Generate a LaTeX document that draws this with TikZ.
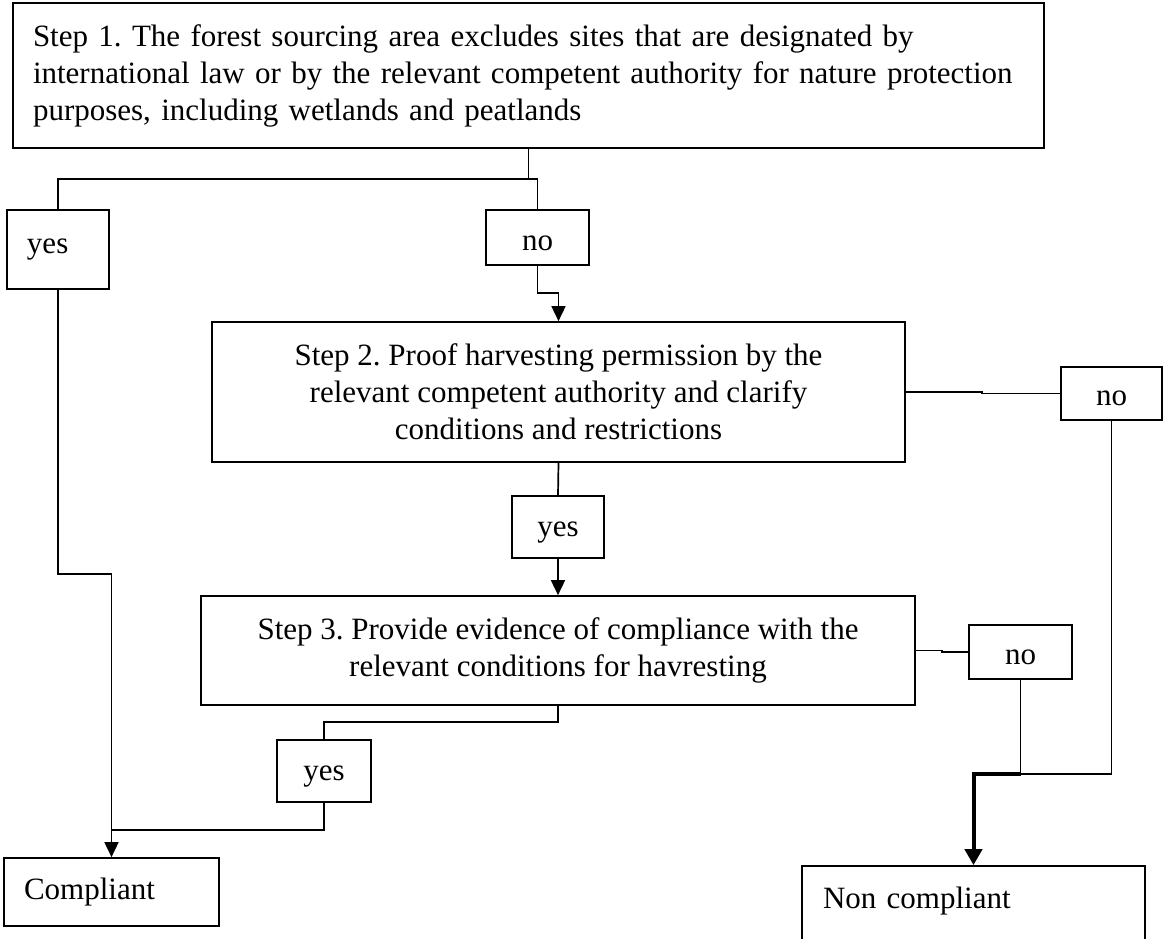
\documentclass[tikz,border=0pt]{standalone}
\usepackage{fontspec}
\setmainfont{Liberation Serif}
\usetikzlibrary{arrows.meta}
\newcommand\shiftdown[2]{\raisebox{-#1}[\height][\depth]{#2}}
\tikzset{
  box/.style={draw, line width=1.7pt, inner sep=0pt, font=\fontsize{31pt}{37pt}\selectfont\frenchspacing},
  conn/.style={line width=1.7pt},
  arr/.style={line width=1.7pt, -{Triangle[length=15pt,width=14pt]}},
  thickarr/.style={line width=4pt, -{Triangle[length=16pt,width=17pt]}},
}
\begin{document}
\begin{tikzpicture}[x=1pt,y=-1pt]
\useasboundingbox (0,0) rectangle (1163,938);
\clip (0,0) rectangle (1163,938);
% boxes
\node[box, text width=991pt, inner xsep=20pt, minimum height=145pt, align=left] (s1) at (528.5,75.5)
  {\mbox{Step 1. The forest sourcing area excludes sites that are designated by}\\
   \mbox{international law or by the relevant competent authority for nature protection}\\
   \mbox{purposes, including wetlands and peatlands}};
\node[box, text width=62pt, inner xsep=20pt, minimum height=79pt, align=left] (yes1) at (58,249.5) {\raisebox{4pt}{yes}};
\node[box, minimum width=103pt, minimum height=55pt] (no1) at (537.5,237.5) {\shiftdown{6pt}{no}};
\node[box, minimum width=693pt, minimum height=140pt, align=center] (s2) at (558.5,392)
  {Step 2. Proof harvesting permission by the\\
   relevant competent authority and clarify\\
   conditions and restrictions};
\node[box, minimum width=101pt, minimum height=53pt] (no2) at (1111.5,393.5) {\shiftdown{5pt}{no}};
\node[box, minimum width=92pt, minimum height=62pt] (yes2) at (558,527) {\shiftdown{6pt}{yes}};
\node[box, minimum width=714pt, minimum height=109pt, align=center] (s3) at (558,650.5)
  {Step 3. Provide evidence of compliance with the\\
   relevant conditions for havresting};
\node[box, minimum width=103pt, minimum height=54pt] (no3) at (1020.5,652) {\shiftdown{5pt}{no}};
\node[box, minimum width=94pt, minimum height=62pt] (yes3) at (324,771) {\shiftdown{6pt}{yes}};
\node[box, text width=175pt, inner xsep=20pt, minimum height=68pt, align=left] (comp) at (111.5,892) {Compliant};
\node[box, text width=301pt, inner xsep=21pt, minimum height=80pt, align=left] (nc) at (973.5,906) {\raisebox{16pt}{Non compliant}};
% junction points
\coordinate (j1) at (528.5,179);
\coordinate (j2) at (558.5,293);
\coordinate (j3) at (558,722);
\coordinate (j4) at (111.5,830);
\coordinate (j5) at (111.5,574);
\coordinate (j6) at (1020.5,774);
\coordinate (k2) at (982,392);
\coordinate (k3) at (942,650.5);
% connectors
\draw[conn] (s1.south) -- (j1) -| (yes1.north);
\draw[conn] (j1) -| (no1.north);
\draw[arr] (no1.south) |- (j2) -- (s2.north);
\draw[conn] (s2.south) -- (yes2.north);
\draw[arr] (yes2.south) -- (s3.north);
\draw[conn] (s2.east) -- (k2) |- (no2.west);
\draw[conn] (s3.east) -- (k3) |- (no3.west);
\draw[conn] (s3.south) -- (j3) -| (yes3.north);
\draw[conn] (yes1.south) |- (j5);
\draw[arr] (j5) -- (comp.north);
\draw[conn] (yes3.south) |- (j4);
\draw[conn] (no2.south) |- (j6);
\draw[conn] (no3.south) -- (j6);
\draw[thickarr] (j6) -| (nc.north);
\end{tikzpicture}
\end{document}
